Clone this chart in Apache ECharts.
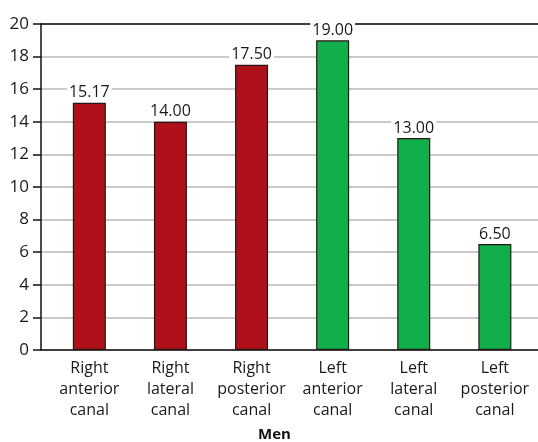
<!DOCTYPE html>
<html>
<head>
<meta charset="utf-8">
<script src="https://cdn.jsdelivr.net/npm/echarts@6/dist/echarts.min.js"></script>
<style>html,body{margin:0;padding:0;background:#fff}#c{width:538px;height:442px}</style>
</head>
<body>
<div id="c"></div>
<script>
var categories = ["Right anterior canal", "Right lateral canal", "Right posterior canal", "Left anterior canal", "Left lateral canal", "Left posterior canal"];
var values = [15.17, 14.00, 17.50, 19.00, 13.00, 6.50];
var sides = ["right", "right", "right", "left", "left", "left"];
var yTicks = [0, 2, 4, 6, 8, 10, 12, 14, 16, 18, 20];
var groupTitle = "Men";

var FONT = "Open Sans";
var colorBySide = { right: "#AE1119", left: "#10AF4B" };
var positions = categories.map(function (c, i) { return i; });

var chart = echarts.init(document.getElementById('c'), null, { renderer: 'canvas' });
chart.setOption({
  animation: false,
  backgroundColor: '#fff',
  grid: { left: 41, right: 0, top: 24, bottom: 92 },
  xAxis: [{
    type: 'value', min: -0.596, max: 5.532,
    splitLine: { show: false },
    axisLine: { show: true, onZero: false, lineStyle: { color: '#111', width: 1.5 } },
    axisTick: { show: false },
    axisLabel: {
      customValues: positions,
      fontFamily: FONT, fontSize: 16, color: '#1a1a1a', lineHeight: 21, margin: 8,
      formatter: function (v) { var i = Math.round(v); return (categories[i] || '').split(' ').join('\n'); }
    }
  }, {
    type: 'value', position: 'top', min: -0.596, max: 5.532,
    splitLine: { show: false }, axisTick: { show: false }, axisLabel: { show: false },
    axisLine: { show: true, onZero: false, lineStyle: { color: '#111', width: 1.5 } }
  }],
  yAxis: {
    type: 'value', min: 0, max: 20, interval: 2,
    axisLine: { show: true, onZero: false, lineStyle: { color: '#111', width: 1.5 } },
    axisTick: { show: true, length: 8, lineStyle: { color: '#111', width: 1.5 } },
    axisLabel: { fontFamily: FONT, fontSize: 17, color: '#1a1a1a', margin: 12,
      customValues: yTicks },
    splitLine: { show: true, lineStyle: { color: '#b8b8b8', width: 1.5 } }
  },
  series: [{
    type: 'bar',
    xAxisIndex: 0,
    barWidth: 33,
    data: values.map(function (v, i) {
      return { value: [positions[i], v], itemStyle: { color: colorBySide[sides[i]] } };
    }),
    itemStyle: { borderColor: '#2a1515', borderWidth: 1.2 },
    label: {
      show: true, position: 'top', distance: 2,
      fontFamily: FONT, fontSize: 16, color: '#1a1a1a',
      backgroundColor: '#fff', padding: [0, 2, 0, 2],
      formatter: function (p) { return p.value[1].toFixed(2); }
    }
  }],
  graphic: [{
    type: 'text', left: 275 - 17, top: 427,
    style: { text: groupTitle, fontFamily: FONT, fontSize: 15, fontWeight: 'bold', fill: '#111' }
  }]
});
</script>
</body>
</html>
